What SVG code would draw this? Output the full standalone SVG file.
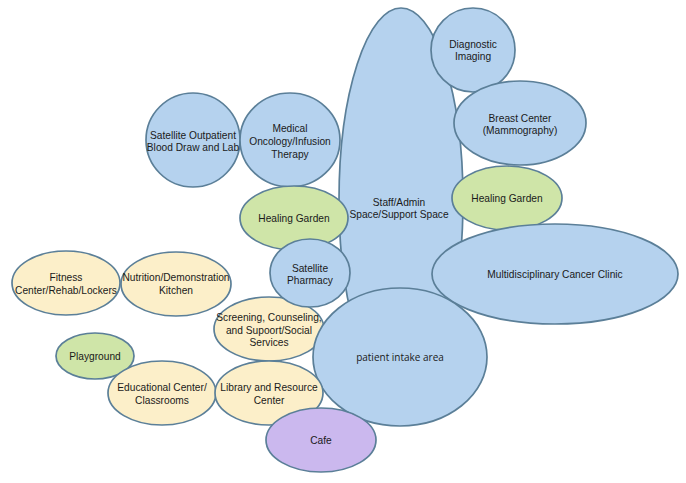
<svg xmlns="http://www.w3.org/2000/svg" width="686" height="483" viewBox="0 0 686 483">
<style>
.n{stroke:#5b7f98;stroke-width:1.7}
.b{fill:#b5d2ee}
.g{fill:#cfe5a8}
.y{fill:#fcefc9}
.p{fill:#cbb8ee}
text{font-family:"Liberation Sans",Arial,sans-serif;font-size:10.2px;fill:#1a1a1a;text-anchor:middle}
.o{font-family:"Open Sans","Liberation Sans",sans-serif;font-size:10px}
</style>
<rect width="686" height="483" fill="#ffffff"/>
<g id="connectors"/>
<g id="staff"><ellipse class="n b" cx="401" cy="200" rx="62" ry="192"/><text x="399" y="206">Staff/Admin</text><text x="399" y="218">Space/Support Space</text></g>
<g id="diagnostic"><circle class="n b" cx="473" cy="50" r="42"/><text x="473" y="48">Diagnostic</text><text x="473" y="60">Imaging</text></g>
<g id="breast"><ellipse class="n b" cx="520" cy="123" rx="66" ry="42"/><text x="520" y="122">Breast Center</text><text x="520" y="134">(Mammography)</text></g>
<g id="garden2"><ellipse class="n g" cx="507" cy="198" rx="55" ry="32"/><text x="507" y="202">Healing Garden</text></g>
<g id="multi"><ellipse class="n b" cx="555" cy="274" rx="123" ry="50"/><text x="555" y="278">Multidisciplinary Cancer Clinic</text></g>
<g id="outpatient"><circle class="n b" cx="193" cy="140" r="47"/><text x="193" y="139">Satellite Outpatient</text><text x="193" y="151">Blood Draw and Lab</text></g>
<g id="oncology"><ellipse class="n b" cx="290" cy="140" rx="50" ry="47"/><text x="290" y="132">Medical</text><text x="290" y="145">Oncology/Infusion</text><text x="290" y="158">Therapy</text></g>
<g id="garden1"><ellipse class="n g" cx="294" cy="218" rx="54" ry="32"/><text x="294" y="222">Healing Garden</text></g>
<g id="fitness"><ellipse class="n y" cx="66" cy="283" rx="54" ry="32"/><text x="66" y="281">Fitness</text><text x="66" y="294">Center/Rehab/Lockers</text></g>
<g id="nutrition"><ellipse class="n y" cx="176" cy="284" rx="55" ry="32"/><text x="176" y="281">Nutrition/Demonstration</text><text x="176" y="294">Kitchen</text></g>
<g id="screening"><ellipse class="n y" cx="269" cy="329" rx="55" ry="32"/><text x="269" y="321">Screening, Counseling,</text><text x="269" y="334">and Supoort/Social</text><text x="269" y="346">Services</text></g>
<g id="intake"><ellipse class="n b" cx="400" cy="357" rx="87" ry="69"/><text class="o" x="400" y="361">patient intake area</text></g>
<g id="pharmacy"><ellipse class="n b" cx="310" cy="273" rx="40" ry="34"/><text x="310" y="272">Satellite</text><text x="310" y="284">Pharmacy</text></g>
<g id="playground"><ellipse class="n g" cx="95" cy="356" rx="39" ry="23"/><text x="95" y="360">Playground</text></g>
<g id="educational"><ellipse class="n y" cx="162" cy="393" rx="54" ry="32"/><text x="162" y="391">Educational Center/</text><text x="162" y="404">Classrooms</text></g>
<g id="library"><ellipse class="n y" cx="269" cy="393" rx="54" ry="32"/><text x="269" y="391">Library and Resource</text><text x="269" y="404">Center</text></g>
<g id="cafe"><ellipse class="n p" cx="321" cy="440" rx="55" ry="32"/><text x="321" y="444">Cafe</text></g>
</svg>
